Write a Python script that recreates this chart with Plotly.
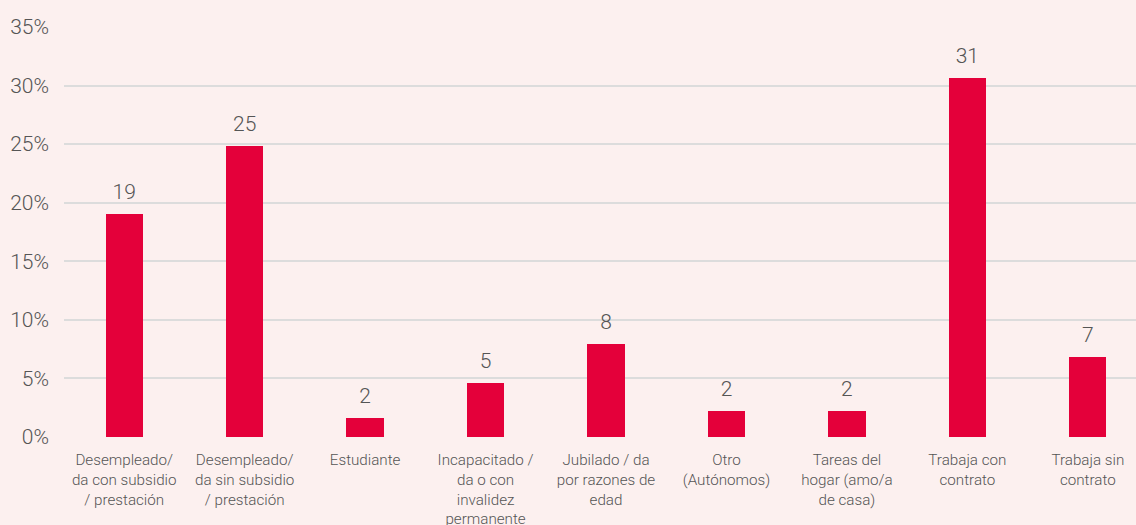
import plotly.graph_objects as go

categories = [
    "Desempleado/<br>da con subsidio<br>/ prestación",
    "Desempleado/<br>da sin subsidio<br>/ prestación",
    "Estudiante",
    "Incapacitado /<br>da o con<br>invalidez<br>permanente",
    "Jubilado / da<br>por razones de<br>edad",
    "Otro<br>(Autónomos)",
    "Tareas del<br>hogar (amo/a<br>de casa)",
    "Trabaja con<br>contrato",
    "Trabaja sin<br>contrato",
]
values = [19.0, 24.8, 1.6, 4.6, 7.95, 2.2, 2.2, 30.65, 6.8]
y_ticks = [0, 5, 10, 15, 20, 25, 30, 35]
y_tick_labels = ["0%", "5%", "10%", "15%", "20%", "25%", "30%", "35%"]

BG = "#FCF0EF"
BAR = "#E4003A"
TXT = "#555555"

x_pos = list(range(len(categories)))

fig = go.Figure()
fig.add_trace(go.Bar(
    x=x_pos,
    y=values,
    marker=dict(color=BAR, line=dict(width=0)),
    width=0.31,
    hoverinfo="skip",
))
fig.add_trace(go.Scatter(
    x=x_pos,
    y=values,
    mode="markers+text",
    marker=dict(size=14, opacity=0, color=BAR),
    text=[f"{v:.0f}" for v in values],
    textposition="top center",
    textfont=dict(family="Roboto", size=21, color=TXT, weight=300),
    cliponaxis=False,
    hoverinfo="skip",
))

fig.update_layout(
    width=1136, height=525,
    paper_bgcolor=BG, plot_bgcolor=BG,
    margin=dict(l=64, r=0, t=27, b=88),
    showlegend=False,
    font=dict(family="Roboto", color=TXT, weight=300),
    bargap=0,
)
fig.update_xaxes(
    tickmode="array",
    tickvals=x_pos,
    ticktext=categories,
    range=[-0.5, 8.4],
    showgrid=False, zeroline=False, showline=False,
    tickfont=dict(family="Roboto", size=15.2, color=TXT, weight=300),
    ticks="", ticklabelstandoff=12,
    automargin=False,
)
fig.update_yaxes(
    range=[0, 35],
    tickmode="array",
    tickvals=y_ticks,
    ticktext=y_tick_labels,
    showgrid=True, gridcolor="#DCDCDC", gridwidth=2,
    zeroline=False, showline=False,
    tickfont=dict(family="Roboto", size=21, color=TXT, weight=300),
    ticks="", ticklabelstandoff=14,
    automargin=False,
)

fig.write_html(
    "out.html",
    config={"displayModeBar": False},
    post_script="document.body.style.margin='0';document.body.style.overflow='hidden';",
)
